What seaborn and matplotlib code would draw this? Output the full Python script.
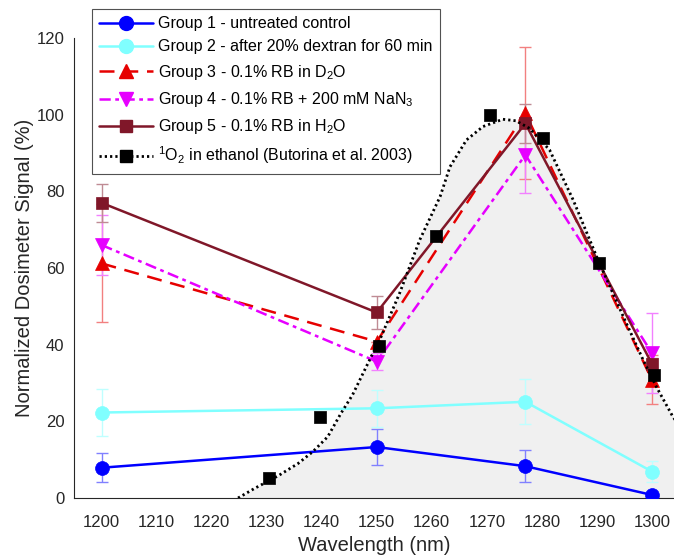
import matplotlib
matplotlib.use("Agg")
import matplotlib.pyplot as plt
from matplotlib.lines import Line2D
import seaborn as sns
import numpy as np

# ---------------- data ----------------
wavelengths = [1200, 1250, 1277, 1300]

g1_vals = [7.9, 13.3, 8.3, 0.8]
g1_err = [3.8, 4.7, 4.2, 0.0]

g2_vals = [22.3, 23.4, 25.1, 6.9]
g2_err = [6.2, 4.8, 5.9, 2.8]

g3_vals = [61.2, 40.8, 100.4, 30.8]
g3_err = [15.4, 0.0, 17.3, 6.4]

g4_vals = [66.0, 35.6, 89.5, 37.8]
g4_err = [7.7, 2.2, 9.9, 10.5]

g5_vals = [77.0, 48.4, 97.7, 35.0]
g5_err = [5.0, 4.4, 5.0, 1.5]

but_x = [1230.5, 1239.6, 1250.4, 1260.7, 1270.5, 1280.2, 1290.4, 1300.4]
but_y = [5.2, 21.2, 39.7, 68.4, 99.9, 94.0, 61.2, 32.1]

curve_x = [1224.8, 1227.8, 1232.1, 1235.7, 1238.4, 1241.1, 1243.5, 1245.6,
           1247.5, 1249.0, 1250.8, 1254.2, 1257.8, 1261.5, 1263.3, 1266.3,
           1269.3, 1272.9, 1275.3, 1277.8, 1281.4, 1285.7, 1290.2, 1294.8,
           1298.4, 1300.8, 1303.8, 1305.0]
curve_y = [0.0, 2.5, 5.8, 9.0, 12.1, 16.0, 22.1, 26.9,
           32.5, 36.9, 42.1, 53.6, 67.3, 78.6, 86.4, 93.4,
           96.9, 98.8, 98.4, 96.4, 90.8, 77.7, 62.1, 47.3,
           36.0, 29.0, 21.2, 18.8]

labels = [
    "Group 1 - untreated control",
    "Group 2 - after 20% dextran for 60 min",
    "Group 3 - 0.1% RB in D$_2$O",
    "Group 4 - 0.1% RB + 200 mM NaN$_3$",
    "Group 5 - 0.1% RB in H$_2$O",
    "$^1$O$_2$ in ethanol (Butorina et al. 2003)",
]
xticks = list(range(1200, 1301, 10))
yticks = list(range(0, 121, 20))

# ---------------- style ----------------
sns.set_style("white")
plt.rcParams["font.family"] = ["Liberation Sans", "DejaVu Sans"]
plt.rcParams["mathtext.default"] = "regular"
plt.rcParams["mathtext.fontset"] = "custom"
plt.rcParams["mathtext.rm"] = "Liberation Sans"
plt.rcParams["mathtext.it"] = "Liberation Sans"

fig = plt.figure(figsize=(6.74, 5.56), dpi=100)
ax = fig.add_axes([74 / 674, 1 - 498 / 556, 1 - 74 / 674, (498 - 38) / 556])

dark = (0.15, 0.15, 0.15)

# fill + fitted curve
ax.fill_between(curve_x, curve_y, 0, color=(0.941, 0.941, 0.941), zorder=1, lw=0)

groups = [
    (g1_vals, g1_err, (0.0, 0.0, 1.0), "o", "-", 10),
    (g2_vals, g2_err, (0.5, 1.0, 1.0), "o", "-", 10),
    (g3_vals, g3_err, (0.9, 0.0, 0.0), "^", (0, (6, 3.5)), 10.5),
    (g4_vals, g4_err, (0.9, 0.0, 1.0), "v", (0, (4.5, 1.8, 1.5, 1.8)), 10.5),
    (g5_vals, g5_err, (0.5, 0.09, 0.16), "s", "-", 8.5),
]

handles = []
for vals, err, col, mk, ls, ms in groups:
    light = tuple(0.5 * c + 0.5 for c in col)
    ax.errorbar(wavelengths, vals, yerr=err, fmt="none", ecolor=light,
                elinewidth=1.0, capsize=4, capthick=1.0, zorder=2)
    sns.lineplot(x=wavelengths, y=vals, ax=ax, color=col, linewidth=1.8,
                 linestyle=ls, marker=mk, markersize=ms, markeredgecolor=col,
                 markerfacecolor=col, markeredgewidth=0.5, zorder=3,
                 legend=False)
    handles.append(Line2D([], [], color=col, linewidth=1.8, linestyle=ls,
                          marker=mk, markersize=ms, markeredgecolor=col,
                          markerfacecolor=col))

sns.lineplot(x=curve_x, y=curve_y, ax=ax, color="black", linewidth=2.0,
             linestyle=(0, (0.8, 1.1)), zorder=4, legend=False, sort=False)
sns.scatterplot(x=but_x, y=but_y, ax=ax, color="black", marker="s", s=70,
                edgecolor="black", linewidth=0.5, zorder=5, legend=False)
handles.append(Line2D([], [], color="black", linewidth=2.0,
                      linestyle=(0, (0.8, 1.1)), marker="s", markersize=8,
                      markerfacecolor="black", markeredgecolor="black"))

# axes
ax.set_xlim(1195, 1304)
ax.set_ylim(0, 120)
ax.set_xticks(xticks)
ax.set_yticks(yticks)
ax.tick_params(direction="in", length=5, width=0.8, colors=dark,
               labelsize=12)
ax.tick_params(axis="x", pad=12.5)
ax.tick_params(axis="y", pad=7)
for s in ["top", "right"]:
    ax.spines[s].set_visible(False)
for s in ["left", "bottom"]:
    ax.spines[s].set_color(dark)
    ax.spines[s].set_linewidth(0.8)
ax.set_xlabel("Wavelength (nm)", fontsize=14.5, color=dark, labelpad=4)
ax.set_ylabel("Normalized Dosimeter Signal (%)", fontsize=14.5, color=dark,
              labelpad=2)
ax.set_facecolor("white")

leg = fig.legend(handles, labels, loc="upper left",
                 bbox_to_anchor=(92 / 674, 1 - 9 / 556),
                 bbox_transform=fig.transFigure, fontsize=11.5,
                 handlelength=3.4, handletextpad=0.3, borderpad=0.45,
                 labelspacing=0.52, frameon=True, fancybox=False,
                 borderaxespad=0)
leg.get_frame().set_edgecolor(dark)
leg.get_frame().set_linewidth(0.8)
for t in leg.get_texts():
    t.set_color("black")

fig.savefig("out.png", dpi=100)
